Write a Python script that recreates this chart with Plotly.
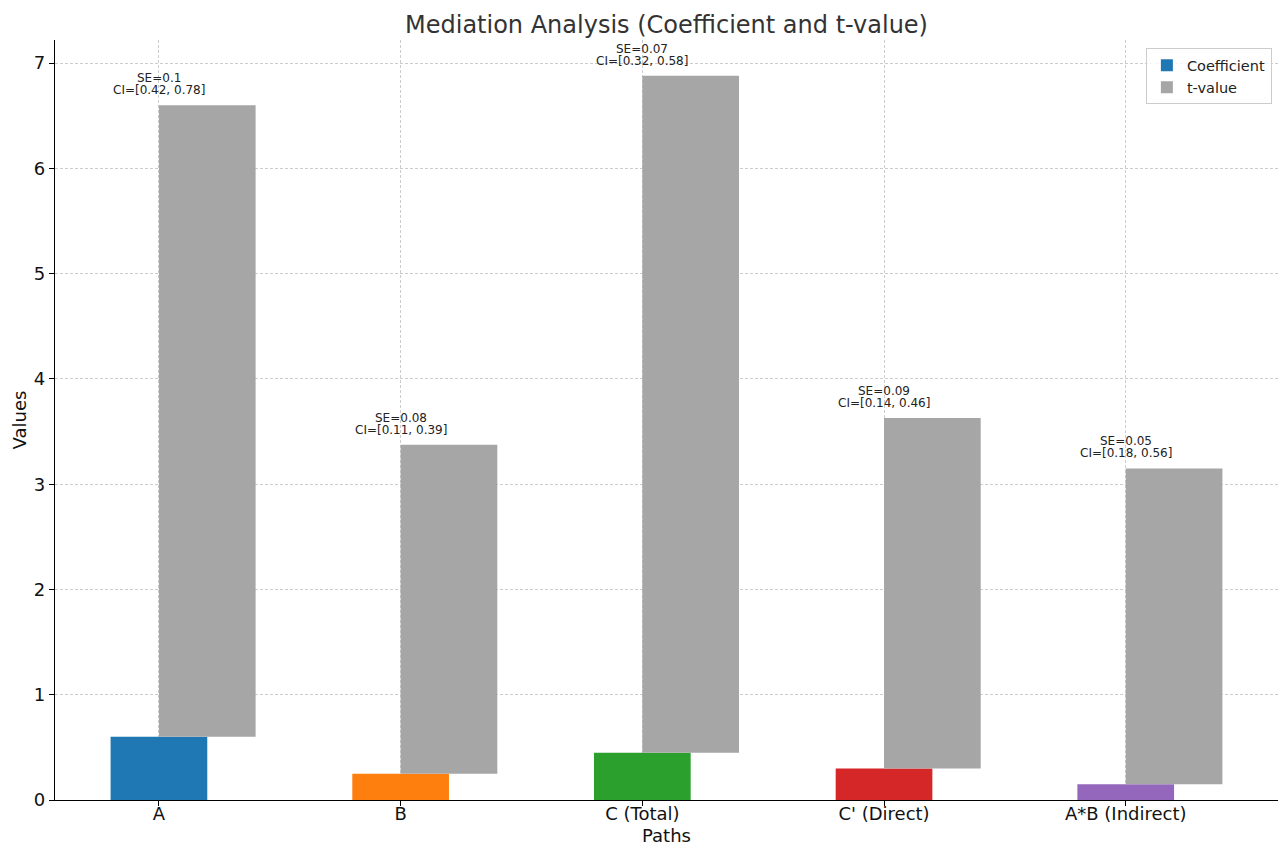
import plotly.graph_objects as go

paths = ["A", "B", "C (Total)", "C' (Direct)", "A*B (Indirect)"]
coefficients = [0.6, 0.25, 0.45, 0.3, 0.15]
std_errors = [0.1, 0.08, 0.07, 0.09, 0.05]
t_values = [6.0, 3.125, 6.43, 3.33, 3.0]
ci_low = [0.42, 0.11, 0.32, 0.14, 0.18]
ci_high = [0.78, 0.39, 0.58, 0.46, 0.56]
bar_colors = ["#1f77b4", "#ff7f0e", "#2ca02c", "#d62728", "#9467bd"]
t_color = "#a6a6a6"

fig = go.Figure()
fig.add_trace(go.Bar(
    x=paths, y=coefficients, name="Coefficient",
    marker=dict(color=bar_colors, line=dict(width=0)),
    width=0.4, offset=-0.2,
))
fig.add_trace(go.Bar(
    x=paths, y=t_values, base=coefficients, name="t-value",
    marker=dict(color=t_color, line=dict(width=0)),
    width=0.4, offset=0.0,
))

ann_font = dict(size=12, color="#222", family="DejaVu Sans")
for p, c, t, se, lo, hi in zip(paths, coefficients, t_values, std_errors, ci_low, ci_high):
    fig.add_annotation(
        x=p, y=c + t, text=f"CI=[{lo}, {hi}]",
        showarrow=False, yanchor="middle", yshift=15, font=ann_font,
    )
    fig.add_annotation(
        x=p, y=c + t, text=f"SE={se}",
        showarrow=False, yanchor="middle", yshift=27, font=ann_font,
    )

fig.update_layout(
    width=1279, height=846,
    barmode="overlay",
    plot_bgcolor="white", paper_bgcolor="white",
    font=dict(family="DejaVu Sans", color="#222"),
    title=dict(text="Mediation Analysis (Coefficient and t-value)", x=0.5, xref="paper",
               xanchor="center", y=0.971, yanchor="middle",
               font=dict(size=24, color="#333")),
    margin=dict(l=55, r=1, t=40, b=46),
    legend=dict(x=0.995, y=0.989, xanchor="right", yanchor="top",
                bordercolor="#cccccc", borderwidth=1, bgcolor="rgba(255,255,255,0.8)",
                font=dict(size=14.5, color="#222")),
    showlegend=True,
)
fig.update_xaxes(
    range=[-0.43, 4.63], showline=True, linecolor="black", linewidth=1.3,
    ticks="outside", ticklen=5, tickcolor="black",
    showgrid=True, gridcolor="#cccccc", griddash="3px,2px", gridwidth=1,
    tickfont=dict(size=18, color="#111"), ticklabelstandoff=-8,
    title=dict(text="Paths", font=dict(size=18, color="#111"), standoff=7),
    layer="above traces",
)
fig.update_yaxes(
    range=[0, 7.22], dtick=1, showline=True, linecolor="black", linewidth=1.3,
    ticks="outside", ticklen=5, tickcolor="black",
    showgrid=True, gridcolor="#cccccc", griddash="3px,2px", gridwidth=1,
    zeroline=False,
    tickfont=dict(size=18, color="#111"),
    title=dict(text="Values", font=dict(size=18, color="#111"), standoff=2),
    layer="above traces",
)

fig.write_html("out.html", config={"displayModeBar": False},
               post_script="document.body.style.margin='0';")
